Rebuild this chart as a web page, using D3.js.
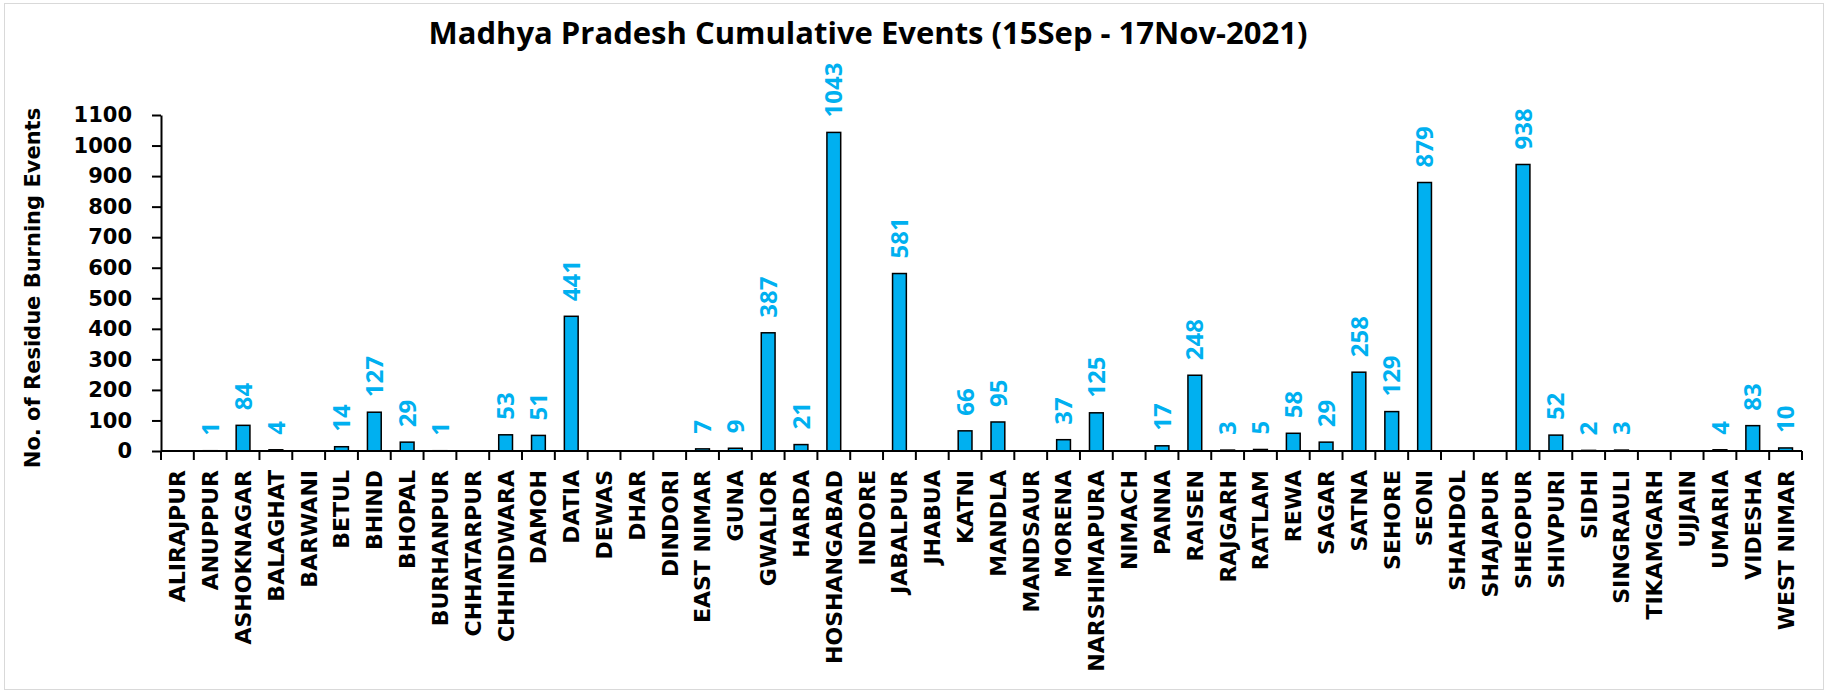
<!DOCTYPE html>
<html>
<head>
<meta charset="utf-8">
<script src="https://cdn.jsdelivr.net/npm/d3@7"></script>
<style>
  body { margin: 0; background: #fff; }
  svg { display: block; }
</style>
</head>
<body>
<svg id="chart" width="1827" height="692"></svg>
<script>
const districts = ["ALIRAJPUR", "ANUPPUR", "ASHOKNAGAR", "BALAGHAT", "BARWANI", "BETUL", "BHIND", "BHOPAL",
    "BURHANPUR", "CHHATARPUR", "CHHINDWARA", "DAMOH", "DATIA", "DEWAS", "DHAR", "DINDORI", "EAST NIMAR",
    "GUNA", "GWALIOR", "HARDA", "HOSHANGABAD", "INDORE", "JABALPUR", "JHABUA", "KATNI", "MANDLA",
    "MANDSAUR", "MORENA", "NARSHIMAPURA", "NIMACH", "PANNA", "RAISEN", "RAJGARH", "RATLAM", "REWA",
    "SAGAR", "SATNA", "SEHORE", "SEONI", "SHAHDOL", "SHAJAPUR", "SHEOPUR", "SHIVPURI", "SIDHI",
    "SINGRAULI", "TIKAMGARH", "UJJAIN", "UMARIA", "VIDESHA", "WEST NIMAR"];

// null = no events reported (no bar, no label)
const events = [null, 1, 84, 4, null, 14, 127, 29,
    1, null, 53, 51, 441, null, null, null, 7,
    9, 387, 21, 1043, null, 581, null, 66, 95,
    null, 37, 125, null, 17, 248, 3, 5, 58,
    29, 258, 129, 879, null, null, 938, 52, 2,
    3, null, null, 4, 83, 10];

const yTicks = [0, 100, 200, 300, 400, 500, 600, 700, 800, 900, 1000, 1100];

const title = "Madhya Pradesh Cumulative Events (15Sep - 17Nov-2021)";
const yTitle = "No. of Residue Burning Events";

const margin = {top: 115, right: 25, bottom: 241, left: 161};
const width = 1827, height = 692;
const blue = "#00B0F0";

const svg = d3.select("#chart");

// outer chart border
svg.append("rect")
    .attr("x", 4.5).attr("y", 3.5)
    .attr("width", width - 8).attr("height", height - 6)
    .attr("fill", "#fff")
    .attr("stroke", "#d9d9d9");

const x = d3.scaleBand()
    .domain(districts)
    .range([margin.left, width - margin.right])
    .padding(0);

const y = d3.scaleLinear()
    .domain([0, 1100])
    .range([height - margin.bottom, margin.top]);

const data = districts.map((d, i) => ({name: d, value: events[i]}));
const barW = x.bandwidth() * 0.42;

// bars
svg.append("g")
    .selectAll("rect")
    .data(data.filter(d => d.value !== null))
    .join("rect")
    .attr("x", d => x(d.name) + (x.bandwidth() - barW) / 2)
    .attr("y", d => y(d.value))
    .attr("width", barW)
    .attr("height", d => y(0) - y(d.value))
    .attr("fill", blue)
    .attr("stroke", "#000")
    .attr("stroke-width", 1.5);

// value labels
svg.append("g")
    .selectAll("text")
    .data(data.filter(d => d.value !== null))
    .join("text")
    .attr("transform", d => `translate(${x(d.name) + x.bandwidth() / 2},${y(d.value) - 15}) rotate(-90)`)
    .attr("dy", "0.36em")
    .attr("fill", blue)
    .style("font-family", "'Open Sans', sans-serif")
    .style("font-weight", "bold")
    .style("font-size", "24px")
    .text(d => d.value);

// y axis
const yAxis = svg.append("g")
    .attr("transform", `translate(${margin.left},0)`)
    .call(d3.axisLeft(y).tickValues(yTicks).tickFormat(d3.format("d"))
        .tickSize(9).tickPadding(20).tickSizeOuter(0));
yAxis.selectAll("text")
    .style("font-family", "'DejaVu Sans', sans-serif")
    .style("font-weight", "bold")
    .style("font-size", "21px")
    .attr("fill", "#000");
yAxis.selectAll("line, path").attr("stroke", "#000").attr("stroke-width", 2);

// x axis: ticks on category boundaries
const xAxis = svg.append("g")
    .attr("transform", `translate(0,${y(0)})`);
xAxis.append("line")
    .attr("x1", margin.left).attr("x2", width - margin.right)
    .attr("stroke", "#000").attr("stroke-width", 2);
xAxis.selectAll(".tick")
    .data(districts.concat(["_end"]))
    .join("line")
    .attr("x1", (d, i) => i < districts.length ? x(d) : x.range()[1])
    .attr("x2", (d, i) => i < districts.length ? x(d) : x.range()[1])
    .attr("y1", 0).attr("y2", 9)
    .attr("stroke", "#000").attr("stroke-width", 2);
xAxis.selectAll("text")
    .data(districts)
    .join("text")
    .attr("transform", d => `translate(${x(d) + x.bandwidth() / 2},19) rotate(-90)`)
    .attr("dy", "0.36em")
    .attr("text-anchor", "end")
    .style("font-family", "'DejaVu Sans', sans-serif")
    .style("font-weight", "bold")
    .style("font-size", "22px")
    .text(d => d);

// axis title
svg.append("text")
    .attr("transform", `translate(40,${(y(0) + y(1100)) / 2 + 5}) rotate(-90)`)
    .attr("text-anchor", "middle")
    .style("font-family", "'DejaVu Sans', sans-serif")
    .style("font-weight", "bold")
    .style("font-size", "21px")
    .text(yTitle);

// chart title
svg.append("text")
    .attr("x", 868)
    .attr("y", 44)
    .attr("text-anchor", "middle")
    .style("font-family", "'Open Sans', sans-serif")
    .style("font-weight", "bold")
    .style("font-size", "31px")
    .text(title);
</script>
</body>
</html>
